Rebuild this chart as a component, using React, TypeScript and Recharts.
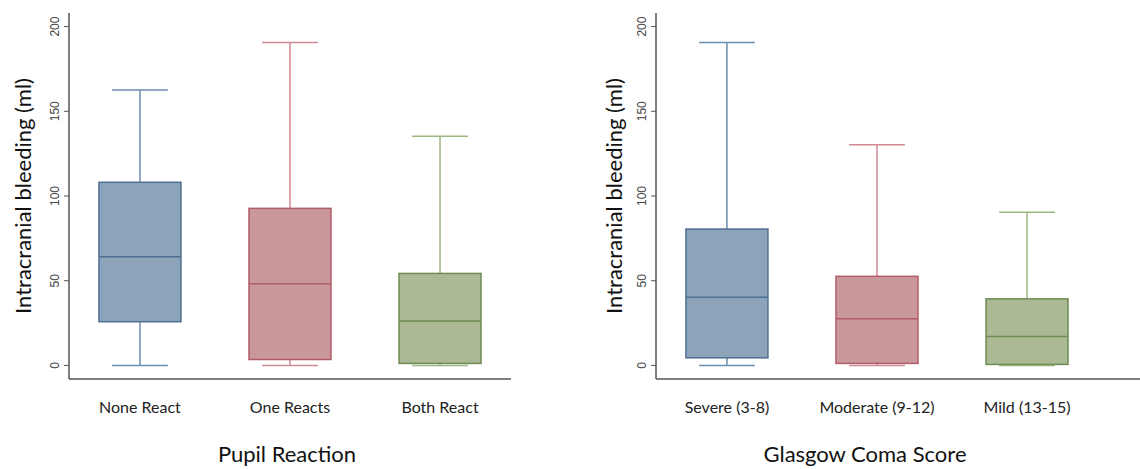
import { ComposedChart, Bar, XAxis, YAxis } from 'recharts';

// Pupil reaction groups (ml)
const pupilGroups = ['None React', 'One Reacts', 'Both React'];
const pupilMin = [0, 0, 0];
const pupilQ1 = [25.8, 3.5, 1.2];
const pupilMedian = [64.1, 48.2, 26.2];
const pupilQ3 = [108.1, 92.7, 54.3];
const pupilMax = [162.6, 190.6, 135.3];

// Glasgow coma score groups (ml)
const gcsGroups = ['Severe (3-8)', 'Moderate (9-12)', 'Mild (13-15)'];
const gcsMin = [0, 0, 0];
const gcsQ1 = [4.5, 1.2, 0.6];
const gcsMedian = [40.2, 27.5, 17.1];
const gcsQ3 = [80.5, 52.6, 39.3];
const gcsMax = [190.6, 130.3, 90.4];

const yTicks = [0, 50, 100, 150, 200];

const PALETTE = [
  { fill: '#8ca3ba', stroke: '#4f7093', whisker: '#6d8db0' },
  { fill: '#c9989c', stroke: '#b25c68', whisker: '#cf8a93' },
  { fill: '#abb995', stroke: '#6f8c52', whisker: '#9db782' },
];

const buildRows = (groups: string[], mn: number[], q1: number[], med: number[], q3: number[], mx: number[]) =>
  groups.map((name, i) => ({
    name,
    pos: i,
    min: mn[i],
    q1: q1[i],
    median: med[i],
    q3: q3[i],
    max: mx[i],
    range: [mn[i], mx[i]],
  }));

const pupilRows = buildRows(pupilGroups, pupilMin, pupilQ1, pupilMedian, pupilQ3, pupilMax);
const gcsRows = buildRows(gcsGroups, gcsMin, gcsQ1, gcsMedian, gcsQ3, gcsMax);

const BoxShape = (props: any) => {
  const { x, y, width, height, payload } = props;
  if (!payload) return null;
  const c = PALETTE[payload.pos];
  // bar spans [min, max], so map values linearly inside it
  const py = (v: number) => y + (height * (payload.max - v)) / (payload.max - payload.min);
  const cx = x + width / 2;
  const cap = width * 0.34;
  return (
    <g>
      <line x1={cx} x2={cx} y1={py(payload.max)} y2={py(payload.min)} stroke={c.whisker} strokeWidth={1.5} />
      <line x1={cx - cap} x2={cx + cap} y1={py(payload.max)} y2={py(payload.max)} stroke={c.whisker} strokeWidth={1.5} />
      <line x1={cx - cap} x2={cx + cap} y1={py(payload.min)} y2={py(payload.min)} stroke={c.whisker} strokeWidth={1.5} />
      <rect x={x} y={py(payload.q3)} width={width} height={py(payload.q1) - py(payload.q3)} fill={c.fill} stroke={c.stroke} strokeWidth={1.5} />
      <line x1={x} x2={x + width} y1={py(payload.median)} y2={py(payload.median)} stroke={c.stroke} strokeWidth={1.5} />
    </g>
  );
};

const YTick = (props: any) => {
  const { x, y, payload } = props;
  const tx = x - 3;
  return (
    <text x={tx} y={y} transform={`rotate(-90, ${tx}, ${y})`} textAnchor="middle" fontSize={12}
      fontFamily="'Liberation Sans', Arial, sans-serif" fill="#444">
      {payload.value}
    </text>
  );
};

const makeXTick = (groups: string[]) => (props: any) => {
  const { x, y, payload } = props;
  return (
    <text x={x} y={y + 26} textAnchor="middle" fontSize={16} fontFamily="Lato, sans-serif" fill="#222">
      {groups[payload.value]}
    </text>
  );
};

interface PanelProps {
  rows: any[];
  groups: string[];
  xTitle: string;
  axisWidth: number;
  rightMargin: number;
  domainMax: number;
  yTitleX: number;
  xTitleX: number;
}

const BoxPanel = ({ rows, groups, xTitle, axisWidth, rightMargin, domainMax, yTitleX, xTitleX }: PanelProps) => (
  <ComposedChart width={570} height={469} data={rows} margin={{ top: 13, right: rightMargin, bottom: 0, left: 0 }}>
    <XAxis
      dataKey="pos"
      type="number"
      domain={[-0.473, domainMax]}
      ticks={[0, 1, 2]}
      allowDataOverflow
      height={90}
      tickLine={false}
      axisLine={{ stroke: '#555', strokeWidth: 1.5 }}
      tick={makeXTick(groups)}
      label={{
        content: () => (
          <text x={xTitleX} y={462} textAnchor="middle" fontSize={22} fontFamily="Lato, sans-serif" fill="#111">
            {xTitle}
          </text>
        ),
      }}
    />
    <YAxis
      type="number"
      domain={[-8, 208]}
      ticks={yTicks}
      allowDataOverflow
      width={axisWidth}
      tickSize={5}
      tickLine={{ stroke: '#555' }}
      axisLine={{ stroke: '#555', strokeWidth: 1.5 }}
      tick={<YTick />}
      label={{
        content: () => (
          <text x={yTitleX} y={196} transform={`rotate(-90, ${yTitleX}, 196)`} textAnchor="middle"
            dominantBaseline="central" fontSize={22} fontFamily="Lato, sans-serif" fill="#111">
            Intracranial bleeding (ml)
          </text>
        ),
      }}
    />
    <Bar dataKey="range" barSize={82} shape={<BoxShape />} isAnimationActive={false} />
  </ComposedChart>
);

export default function App() {
  return (
    <div style={{ position: 'absolute', left: 0, top: 0, width: 1140, height: 469, background: '#fff', display: 'flex' }}>
      <BoxPanel rows={pupilRows} groups={pupilGroups} xTitle="Pupil Reaction" axisWidth={69} rightMargin={59}
        domainMax={2.473} yTitleX={22} xTitleX={287} />
      <BoxPanel rows={gcsRows} groups={gcsGroups} xTitle="Glasgow Coma Score" axisWidth={86} rightMargin={0}
        domainMax={2.753} yTitleX={43} xTitleX={295} />
    </div>
  );
}
